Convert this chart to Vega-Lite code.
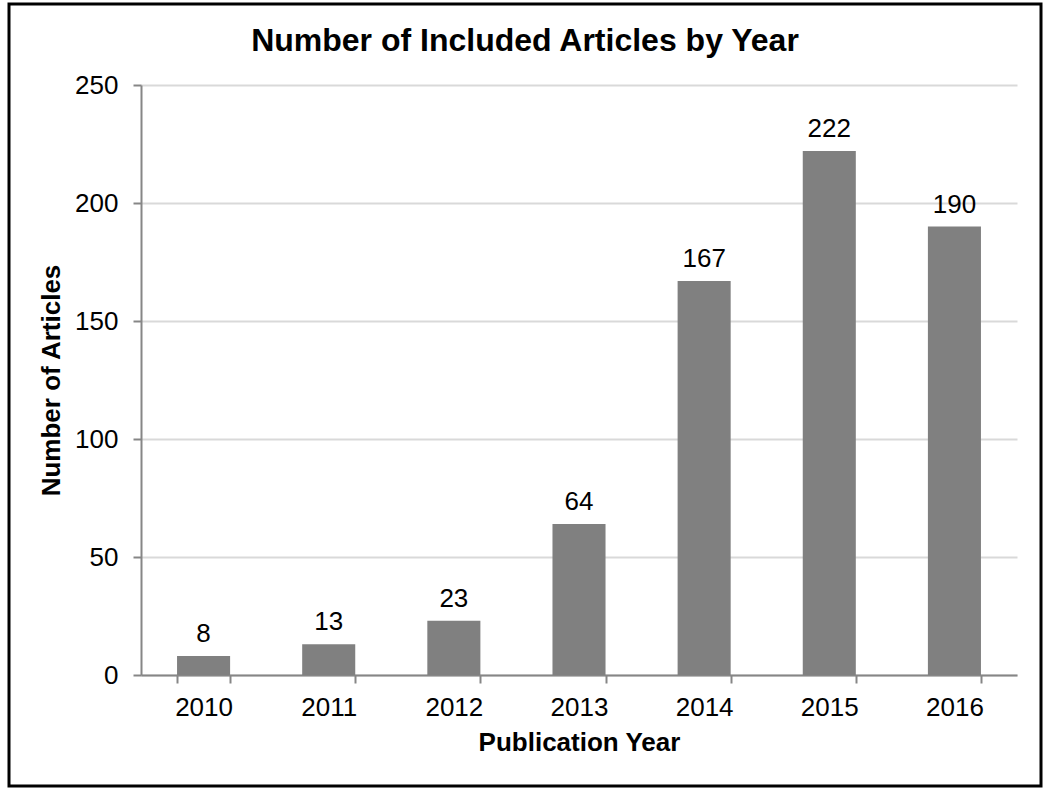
{
  "$schema": "https://vega.github.io/schema/vega-lite/v6.json",
  "width": 876,
  "height": 590,
  "autosize": {"type": "none"},
  "padding": {"left": 141, "top": 85, "right": 33, "bottom": 120},
  "background": "white",
  "title": {
    "text": "Number of Included Articles by Year",
    "anchor": "middle",
    "frame": "bounds",
    "fontSize": 32,
    "font": "Liberation Sans",
    "fontWeight": "bold",
    "color": "black",
    "offset": -55
  },
  "config": {"view": {"stroke": null}, "font": "Liberation Sans"},
  "data": {
    "values": [
      {"year": "2010", "articles": 8},
      {"year": "2011", "articles": 13},
      {"year": "2012", "articles": 23},
      {"year": "2013", "articles": 64},
      {"year": "2014", "articles": 167},
      {"year": "2015", "articles": 222},
      {"year": "2016", "articles": 190}
    ]
  },
  "encoding": {
    "x": {
      "field": "year",
      "type": "ordinal",
      "title": "Publication Year",
      "scale": {"paddingInner": 0.576, "paddingOuter": 0.288},
      "axis": {
        "labelAngle": 0,
        "tickBand": "extent",
        "tickSize": 8,
        "tickColor": "#868686",
        "tickWidth": 2,
        "domainColor": "#868686",
        "domainWidth": 2,
        "labelFontSize": 26,
        "labelColor": "black",
        "labelPadding": 11,
        "titleFontSize": 26,
        "titleFontWeight": "bold",
        "titleColor": "black",
        "titlePadding": 9,
        "grid": false
      }
    },
    "y": {
      "field": "articles",
      "type": "quantitative",
      "title": "Number of Articles",
      "scale": {"domain": [0, 250], "nice": false},
      "axis": {
        "values": [0, 50, 100, 150, 200, 250],
        "tickSize": 8,
        "tickColor": "#868686",
        "tickWidth": 2,
        "domainColor": "#868686",
        "domainWidth": 2,
        "gridColor": "#d9d9d9",
        "gridWidth": 2,
        "labelFontSize": 26,
        "labelColor": "black",
        "labelPadding": 15,
        "titleFontSize": 26,
        "titleFontWeight": "bold",
        "titleColor": "black",
        "titlePadding": 10
      }
    }
  },
  "layer": [
    {
      "mark": {"type": "bar", "color": "#808080"}
    },
    {
      "mark": {"type": "text", "baseline": "alphabetic", "dy": -14, "fontSize": 26, "color": "black"},
      "encoding": {
        "text": {"field": "articles"}
      }
    },
    {
      "data": {"values": [{"frame": 1}]},
      "mark": {
        "type": "rect",
        "x": -132,
        "x2": {"expr": "width + 24"},
        "y": -81,
        "y2": {"expr": "height + 111"},
        "filled": false,
        "stroke": "black",
        "strokeWidth": 3
      },
      "encoding": {"x": null, "y": null}
    }
  ]
}
